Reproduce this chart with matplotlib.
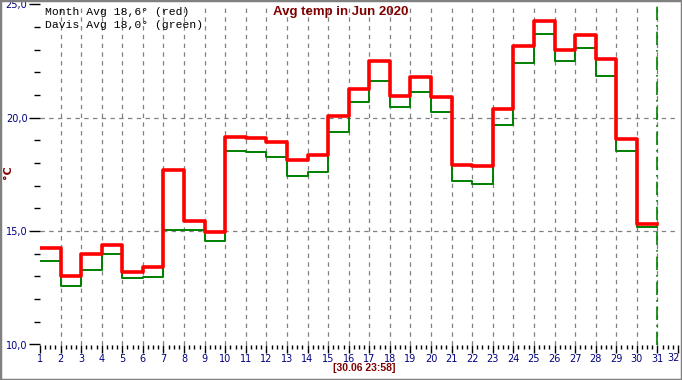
import matplotlib.pyplot as plt
from matplotlib.patches import Rectangle
from matplotlib.ticker import MultipleLocator, FuncFormatter

# daily averages, June 2020
days = list(range(1, 31))
month_avg = [14.26, 13.03, 13.99, 14.38, 13.21, 13.43, 17.69, 15.44, 14.94, 19.15,
             19.11, 18.93, 18.14, 18.36, 20.08, 21.26, 22.49, 20.96, 21.78, 20.90,
             17.91, 17.88, 20.39, 23.15, 24.25, 22.97, 23.65, 22.58, 19.07, 15.32]
davis_avg = [13.68, 12.56, 13.28, 13.97, 12.93, 12.96, 15.07, 15.07, 14.56, 18.55,
             18.48, 18.25, 17.45, 17.60, 19.37, 20.71, 21.64, 20.45, 21.15, 20.23,
             17.23, 17.07, 19.70, 22.43, 23.67, 22.48, 23.09, 21.86, 18.51, 15.18]
title = 'Avg temp in Jun 2020'
legend_lines = ['Month Avg 18,6° (red)', 'Davis Avg 18,0° (green)']
stamp = '[30.06 23:58]'
last_day = 31
x_max = 32

navy = '#000080'
darkred = '#800000'

fig = plt.figure(figsize=(6.82, 3.8), dpi=100)
fig.patch.set_facecolor('white')
ax = fig.add_axes([40 / 682, 1 - 344.5 / 380, 638 / 682, 340.2 / 380])

x = days + [days[-1] + 1]
ax.step(x, davis_avg + [davis_avg[-1]], where='post', color='#008000', lw=1.4, zorder=3)
ax.step(x, month_avg + [month_avg[-1]], where='post', color='#ff0000', lw=2.6, zorder=4)

ax.set_xlim(1, x_max)
ax.set_ylim(10, 25)

for d in range(2, 32):
    ax.axvline(d, color='#808080', ls=(0, (3.5, 3.5)), lw=0.9, zorder=1)
for t in (15, 20):
    ax.axhline(t, color='#808080', ls=(0, (3.5, 3.5)), lw=0.9, zorder=1)
ax.axvline(last_day, color='#008000', ls=(0, (8, 3, 1, 3)), lw=1.2, zorder=2)

ax.xaxis.set_major_locator(MultipleLocator(1))
ax.xaxis.set_minor_locator(MultipleLocator(0.25))
ax.xaxis.set_major_formatter(FuncFormatter(lambda v, p: '' if v >= x_max else '%d' % v))
ax.yaxis.set_major_locator(MultipleLocator(5))
ax.yaxis.set_minor_locator(MultipleLocator(1))
ax.yaxis.set_major_formatter(FuncFormatter(lambda v, p: ('%.1f' % v).replace('.', ',')))

ax.tick_params(axis='x', which='major', length=6, width=1, colors='black',
               labelcolor=navy, labelsize=7, pad=1)
ax.tick_params(axis='x', which='minor', length=3, width=1, colors='black')
ax.tick_params(axis='y', which='major', length=8, width=1, colors='black',
               labelcolor=navy, labelsize=7, pad=1)
ax.tick_params(axis='y', which='minor', length=4, width=1, colors='black')
for s in ax.spines.values():
    s.set_visible(False)

# last day label squeezed against the right border
fig.text(680 / 682, 1 - 358 / 380, '%d' % x_max, color=navy, fontsize=7,
         ha='right', va='center')

fig.text(8 / 682, 1 - 172 / 380, '°C', rotation=90, color=darkred, fontsize=8,
         fontweight='bold', ha='center', va='center')
fig.text(341 / 682, 1 - 12 / 380, title, color=darkred, fontsize=9.5,
         fontweight='bold', family='Liberation Sans', ha='center', va='center')
for i, line in enumerate(legend_lines):
    fig.text(45 / 682, 1 - (12 + 13 * i) / 380, line, family='Liberation Mono',
             fontsize=8.2, color='black', ha='left', va='center')
fig.text(364 / 682, 1 - 368 / 380, stamp, color=darkred, fontsize=7.5,
         fontweight='bold', family='Liberation Sans', ha='center', va='center')

fig.patches.append(Rectangle((0, 0), 1, 1, transform=fig.transFigure, fill=False,
                             edgecolor='#808080', lw=2.5))

fig.savefig('out.png', dpi=100)
